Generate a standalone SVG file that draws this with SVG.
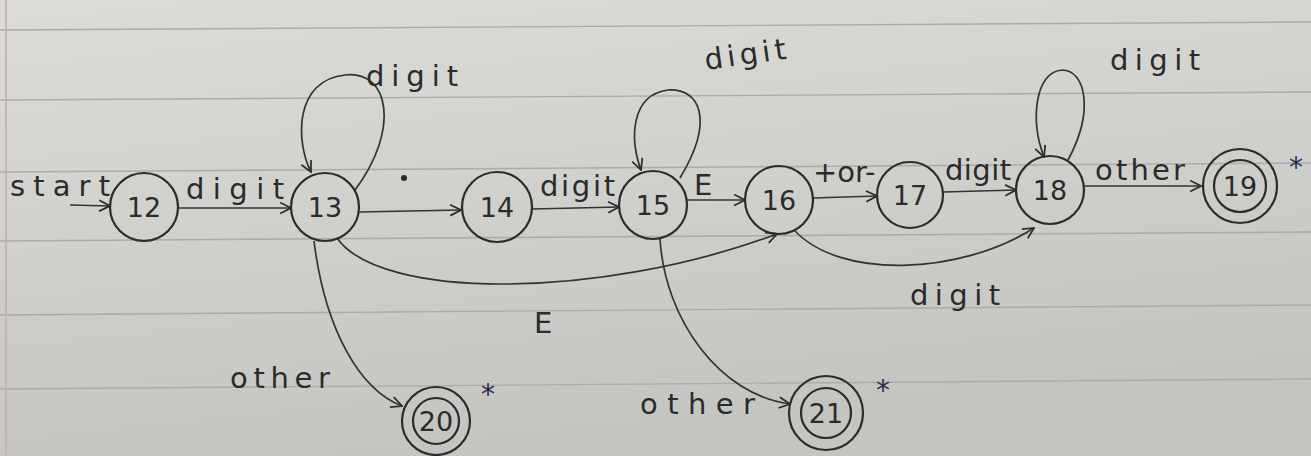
<svg xmlns="http://www.w3.org/2000/svg" width="1311" height="456" viewBox="0 0 1311 456">
<defs>
<linearGradient id="paper" x1="0" y1="0" x2="0.3" y2="1">
<stop offset="0" stop-color="#dcdcd8"/>
<stop offset="1" stop-color="#c4c5c0"/>
</linearGradient>
<marker id="arr" viewBox="0 0 12 12" refX="11" refY="6" markerWidth="13" markerHeight="13" markerUnits="userSpaceOnUse" orient="auto">
<path d="M1,1 L11,6 L1,11" fill="none" stroke="#2b2b2b" stroke-width="1.6"/>
</marker>
<style>
.st{fill:none;stroke:#2b2b2b;stroke-width:2.2}
.ed{fill:none;stroke:#333;stroke-width:1.7;marker-end:url(#arr)}
.rule{stroke:#a9acae;stroke-width:1.4}
.n{font-family:"DejaVu Sans","Liberation Sans",sans-serif;font-size:27px;fill:#2b2b2b;text-anchor:middle;dominant-baseline:central}
.lb{font-family:"DejaVu Sans","Liberation Sans",sans-serif;font-size:29px;fill:#2b2b2b}
.star{font-family:"DejaVu Sans",sans-serif;font-size:28px;fill:#2a2a55}
</style>
</defs>
<rect width="1311" height="456" fill="url(#paper)"/>
<g id="paper-rules">
<line class="rule" x1="0" y1="30" x2="1311" y2="22"/>
<line class="rule" x1="0" y1="100" x2="1311" y2="92"/>
<line class="rule" x1="0" y1="172" x2="1311" y2="163"/>
<line class="rule" x1="0" y1="241" x2="1311" y2="232"/>
<line class="rule" x1="0" y1="315" x2="1311" y2="305"/>
<line class="rule" x1="0" y1="389" x2="1311" y2="379"/>
<line x1="6" y1="0" x2="6" y2="456" stroke="#c9a9a9" stroke-width="1.5"/>
</g>
<g id="connectors">
<path class="ed" d="M70,205 L110,206"/>
<path class="ed" d="M178,208 L291,208"/>
<path class="ed" d="M359,212 L461,210"/>
<path class="ed" d="M532,209 L619,207"/>
<path class="ed" d="M687,200 L745,200"/>
<path class="ed" d="M813,198 L877,196"/>
<path class="ed" d="M943,192 L1016,190"/>
<path class="ed" d="M1084,186 L1201,186"/>
<path class="ed" d="M355,190 C400,130 390,70 345,75 C295,80 295,140 311,172"/>
<path class="ed" d="M680,178 C715,120 700,88 668,90 C630,95 630,140 641,170"/>
<path class="ed" d="M1068,160 C1095,110 1085,70 1062,70 C1035,72 1030,120 1044,157"/>
<path class="ed" d="M337,238 C380,300 600,300 777,234"/>
<path class="ed" d="M794,230 C840,280 960,275 1034,228"/>
<path class="ed" d="M314,241 C325,330 360,390 402,406"/>
<path class="ed" d="M660,239 C665,320 720,395 790,404"/>
</g>
<g id="labels">
<text class="lb" x="10" y="196" textLength="100" lengthAdjust="spacing">start</text>
<text class="lb" x="186" y="199" textLength="98" lengthAdjust="spacing">digit</text>
<circle cx="404" cy="178" r="3" fill="#2b2b2b"/>
<text class="lb" x="366" y="86" textLength="92" lengthAdjust="spacing">digit</text>
<text class="lb" x="540" y="196" textLength="75" lengthAdjust="spacing" font-size="26">digit</text>
<text class="lb" x="706" y="70" transform="rotate(-8 706 70)" textLength="82" lengthAdjust="spacing">digit</text>
<text class="lb" x="694" y="195">E</text>
<text class="lb" x="813" y="182" font-size="19">+or-</text>
<text class="lb" x="945" y="180" font-size="23" textLength="66" lengthAdjust="spacing">digit</text>
<text class="lb" x="1110" y="70" textLength="90" lengthAdjust="spacing">digit</text>
<text class="lb" x="1095" y="180" font-size="25" textLength="90" lengthAdjust="spacing">other</text>
<text class="lb" x="534" y="333">E</text>
<text class="lb" x="910" y="305" textLength="90" lengthAdjust="spacing">digit</text>
<text class="lb" x="230" y="388" textLength="100" lengthAdjust="spacing">other</text>
<text class="lb" x="640" y="414" textLength="115" lengthAdjust="spacing">other</text>
<text class="star" x="1289" y="177">*</text>
<text class="star" x="481" y="404">*</text>
<text class="star" x="876" y="400">*</text>
</g>
<g id="n12"><circle class="st" cx="144" cy="207" r="34"/><text class="n" x="144" y="207">12</text></g>
<g id="n13"><circle class="st" cx="325" cy="207" r="34"/><text class="n" x="325" y="207">13</text></g>
<g id="n14"><circle class="st" cx="497" cy="207" r="35"/><text class="n" x="497" y="207">14</text></g>
<g id="n15"><circle class="st" cx="653" cy="205" r="34"/><text class="n" x="653" y="205">15</text></g>
<g id="n16"><circle class="st" cx="779" cy="200" r="34"/><text class="n" x="779" y="200">16</text></g>
<g id="n17"><circle class="st" cx="910" cy="195" r="33"/><text class="n" x="910" y="195">17</text></g>
<g id="n18"><circle class="st" cx="1050" cy="190" r="34"/><text class="n" x="1050" y="190">18</text></g>
<g id="n19"><circle class="st" cx="1240" cy="186" r="37"/><circle class="st" cx="1240" cy="186" r="26"/><text class="n" x="1240" y="186" font-size="24">19</text></g>
<g id="n20"><circle class="st" cx="436" cy="421" r="34"/><circle class="st" cx="436" cy="421" r="23"/><text class="n" x="436" y="421" font-size="22">20</text></g>
<g id="n21"><circle class="st" cx="826" cy="413" r="37"/><circle class="st" cx="826" cy="413" r="25"/><text class="n" x="826" y="413" font-size="22">21</text></g>
</svg>
